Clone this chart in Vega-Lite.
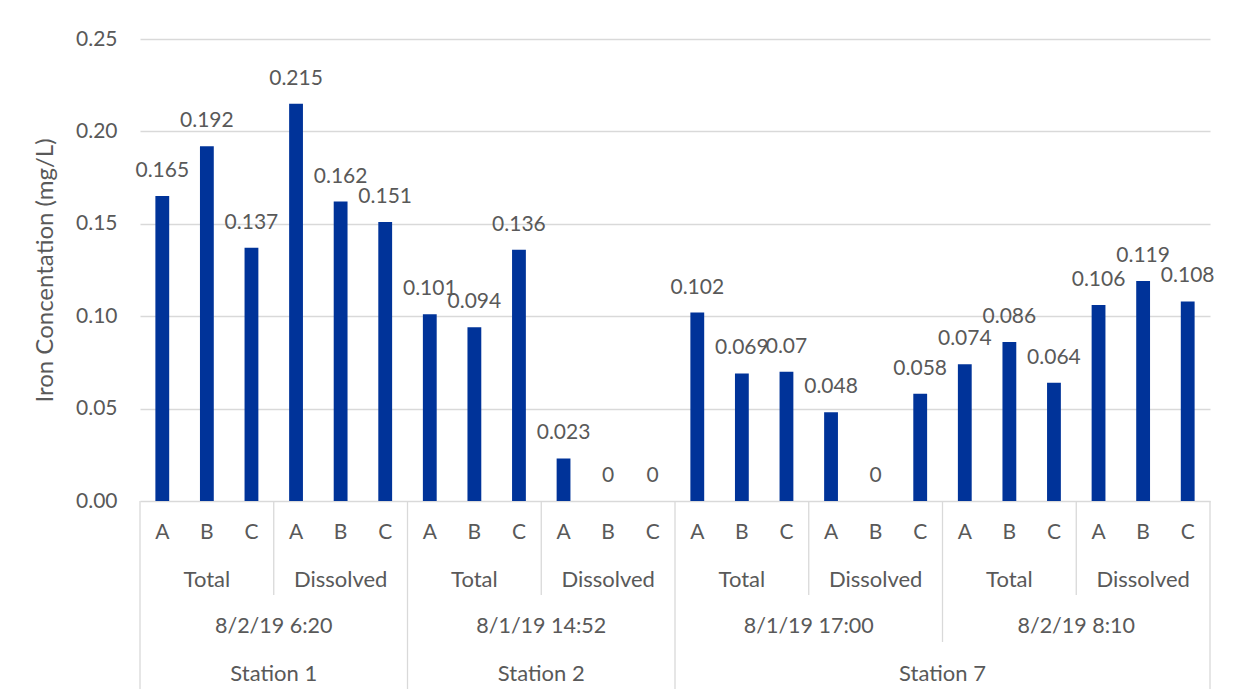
{
  "$schema": "https://vega.github.io/schema/vega-lite/v6.json",
  "padding": {"left": 33, "top": 28, "right": 30, "bottom": 0},
  "bounds": "flush",
  "spacing": 0,
  "config": {
    "view": {"stroke": null},
    "font": "Lato",
    "axis": {"labelFont": "Lato", "titleFont": "Lato", "labelColor": "#595959", "titleColor": "#595959"}
  },
  "datasets": {
    "bars": [
      {"id": "1TA", "station": "Station 1", "date": "8/2/19 6:20", "type": "Total", "sample": "A", "value": 0.165},
      {"id": "1TB", "station": "Station 1", "date": "8/2/19 6:20", "type": "Total", "sample": "B", "value": 0.192},
      {"id": "1TC", "station": "Station 1", "date": "8/2/19 6:20", "type": "Total", "sample": "C", "value": 0.137},
      {"id": "1DA", "station": "Station 1", "date": "8/2/19 6:20", "type": "Dissolved", "sample": "A", "value": 0.215},
      {"id": "1DB", "station": "Station 1", "date": "8/2/19 6:20", "type": "Dissolved", "sample": "B", "value": 0.162},
      {"id": "1DC", "station": "Station 1", "date": "8/2/19 6:20", "type": "Dissolved", "sample": "C", "value": 0.151},
      {"id": "2TA", "station": "Station 2", "date": "8/1/19 14:52", "type": "Total", "sample": "A", "value": 0.101},
      {"id": "2TB", "station": "Station 2", "date": "8/1/19 14:52", "type": "Total", "sample": "B", "value": 0.094},
      {"id": "2TC", "station": "Station 2", "date": "8/1/19 14:52", "type": "Total", "sample": "C", "value": 0.136},
      {"id": "2DA", "station": "Station 2", "date": "8/1/19 14:52", "type": "Dissolved", "sample": "A", "value": 0.023},
      {"id": "2DB", "station": "Station 2", "date": "8/1/19 14:52", "type": "Dissolved", "sample": "B", "value": 0},
      {"id": "2DC", "station": "Station 2", "date": "8/1/19 14:52", "type": "Dissolved", "sample": "C", "value": 0},
      {"id": "7aTA", "station": "Station 7", "date": "8/1/19 17:00", "type": "Total", "sample": "A", "value": 0.102},
      {"id": "7aTB", "station": "Station 7", "date": "8/1/19 17:00", "type": "Total", "sample": "B", "value": 0.069},
      {"id": "7aTC", "station": "Station 7", "date": "8/1/19 17:00", "type": "Total", "sample": "C", "value": 0.07},
      {"id": "7aDA", "station": "Station 7", "date": "8/1/19 17:00", "type": "Dissolved", "sample": "A", "value": 0.048},
      {"id": "7aDB", "station": "Station 7", "date": "8/1/19 17:00", "type": "Dissolved", "sample": "B", "value": 0},
      {"id": "7aDC", "station": "Station 7", "date": "8/1/19 17:00", "type": "Dissolved", "sample": "C", "value": 0.058},
      {"id": "7bTA", "station": "Station 7", "date": "8/2/19 8:10", "type": "Total", "sample": "A", "value": 0.074},
      {"id": "7bTB", "station": "Station 7", "date": "8/2/19 8:10", "type": "Total", "sample": "B", "value": 0.086},
      {"id": "7bTC", "station": "Station 7", "date": "8/2/19 8:10", "type": "Total", "sample": "C", "value": 0.064},
      {"id": "7bDA", "station": "Station 7", "date": "8/2/19 8:10", "type": "Dissolved", "sample": "A", "value": 0.106},
      {"id": "7bDB", "station": "Station 7", "date": "8/2/19 8:10", "type": "Dissolved", "sample": "B", "value": 0.119},
      {"id": "7bDC", "station": "Station 7", "date": "8/2/19 8:10", "type": "Dissolved", "sample": "C", "value": 0.108}
    ],
    "stations": [
      {"station": "Station 1", "mid": "1TC"},
      {"station": "Station 2", "mid": "2TC"},
      {"station": "Station 7", "mid": "7aDC"}
    ]
  },
  "vconcat": [
    {
      "width": 1070,
      "height": 462,
      "data": {"name": "bars"},
      "encoding": {
        "x": {"field": "id", "type": "nominal", "axis": null,
              "scale": {"domain": ["1TA","1TB","1TC","1DA","1DB","1DC","2TA","2TB","2TC","2DA","2DB","2DC","7aTA","7aTB","7aTC","7aDA","7aDB","7aDC","7bTA","7bTB","7bTC","7bDA","7bDB","7bDC"], "paddingInner": 0, "paddingOuter": 0}},
        "y": {"field": "value", "type": "quantitative",
              "scale": {"domain": [0, 0.25], "nice": false},
              "axis": {"title": "Iron Concentation (mg/L)", "values": [0, 0.05, 0.1, 0.15, 0.2, 0.25], "format": ".2f",
                       "domain": false, "ticks": false, "grid": true, "gridColor": "#d9d9d9", "gridWidth": 1.3,
                       "labelFontSize": 21, "labelPadding": 23, "titleFontSize": 24, "titleFontWeight": "normal", "titlePadding": 18}}
      },
      "layer": [
        {"mark": {"type": "bar", "color": "#003399", "width": {"band": 0.31}}},
        {"mark": {"type": "text", "color": "#595959", "fontSize": 21, "baseline": "alphabetic", "dy": -19},
         "encoding": {"text": {"field": "value", "type": "quantitative"}}}
      ]
    },
    {
      "width": 1070,
      "height": 47,
      "data": {"name": "bars"},
      "layer": [
        {"mark": {"type": "text", "color": "#595959", "fontSize": 21, "dy": 8},
         "encoding": {
           "x": {"field": "id", "type": "nominal", "axis": null,
                 "scale": {"domain": ["1TA","1TB","1TC","1DA","1DB","1DC","2TA","2TB","2TC","2DA","2DB","2DC","7aTA","7aTB","7aTC","7aDA","7aDB","7aDC","7bTA","7bTB","7bTC","7bDA","7bDB","7bDC"], "paddingInner": 0, "paddingOuter": 0}},
           "text": {"field": "sample", "type": "nominal"}}},
        {"transform": [{"filter": "datum.sample == 'A'"}],
         "mark": {"type": "rule", "color": "#d9d9d9", "strokeWidth": 1.3},
         "encoding": {"x": {"field": "id", "type": "nominal", "bandPosition": 0, "axis": null}}},
        {"transform": [{"filter": "datum.id == '7bDC'"}],
         "mark": {"type": "rule", "color": "#d9d9d9", "strokeWidth": 1.3},
         "encoding": {"x": {"field": "id", "type": "nominal", "bandPosition": 1, "axis": null}}}
      ]
    },
    {
      "width": 1070,
      "height": 47,
      "data": {"name": "bars"},
      "layer": [
        {"transform": [{"filter": "datum.sample == 'B'"}],
         "mark": {"type": "text", "color": "#595959", "fontSize": 22, "dy": 8},
         "encoding": {
           "x": {"field": "id", "type": "nominal", "axis": null,
                 "scale": {"domain": ["1TA","1TB","1TC","1DA","1DB","1DC","2TA","2TB","2TC","2DA","2DB","2DC","7aTA","7aTB","7aTC","7aDA","7aDB","7aDC","7bTA","7bTB","7bTC","7bDA","7bDB","7bDC"], "paddingInner": 0, "paddingOuter": 0}},
           "text": {"field": "type", "type": "nominal"}}},
        {"transform": [{"filter": "datum.sample == 'A'"}],
         "mark": {"type": "rule", "color": "#d9d9d9", "strokeWidth": 1.3},
         "encoding": {"x": {"field": "id", "type": "nominal", "bandPosition": 0, "axis": null}}},
        {"transform": [{"filter": "datum.id == '7bDC'"}],
         "mark": {"type": "rule", "color": "#d9d9d9", "strokeWidth": 1.3},
         "encoding": {"x": {"field": "id", "type": "nominal", "bandPosition": 1, "axis": null}}}
      ]
    },
    {
      "width": 1070,
      "height": 47,
      "data": {"name": "bars"},
      "layer": [
        {"transform": [{"filter": "datum.type == 'Total' && datum.sample == 'C'"}],
         "mark": {"type": "text", "color": "#595959", "fontSize": 21.5, "dy": 8},
         "encoding": {
           "x": {"field": "id", "type": "nominal", "bandPosition": 1, "axis": null,
                 "scale": {"domain": ["1TA","1TB","1TC","1DA","1DB","1DC","2TA","2TB","2TC","2DA","2DB","2DC","7aTA","7aTB","7aTC","7aDA","7aDB","7aDC","7bTA","7bTB","7bTC","7bDA","7bDB","7bDC"], "paddingInner": 0, "paddingOuter": 0}},
           "text": {"field": "date", "type": "nominal"}}},
        {"transform": [{"filter": "datum.type == 'Total' && datum.sample == 'A'"}],
         "mark": {"type": "rule", "color": "#d9d9d9", "strokeWidth": 1.3},
         "encoding": {"x": {"field": "id", "type": "nominal", "bandPosition": 0, "axis": null}}},
        {"transform": [{"filter": "datum.id == '7bDC'"}],
         "mark": {"type": "rule", "color": "#d9d9d9", "strokeWidth": 1.3},
         "encoding": {"x": {"field": "id", "type": "nominal", "bandPosition": 1, "axis": null}}}
      ]
    },
    {
      "width": 1070,
      "height": 47,
      "layer": [
        {"data": {"name": "stations"},
         "mark": {"type": "text", "color": "#595959", "fontSize": 22, "dy": 8},
         "encoding": {
           "x": {"field": "mid", "type": "nominal", "bandPosition": 1, "axis": null,
                 "scale": {"domain": ["1TA","1TB","1TC","1DA","1DB","1DC","2TA","2TB","2TC","2DA","2DB","2DC","7aTA","7aTB","7aTC","7aDA","7aDB","7aDC","7bTA","7bTB","7bTC","7bDA","7bDB","7bDC"], "paddingInner": 0, "paddingOuter": 0}},
           "text": {"field": "station", "type": "nominal"}}},
        {"data": {"name": "bars"},
         "transform": [{"filter": "datum.id == '1TA' || datum.id == '2TA' || datum.id == '7aTA'"}],
         "mark": {"type": "rule", "color": "#d9d9d9", "strokeWidth": 1.3},
         "encoding": {"x": {"field": "id", "type": "nominal", "bandPosition": 0, "axis": null}}},
        {"data": {"name": "bars"},
         "transform": [{"filter": "datum.id == '7bDC'"}],
         "mark": {"type": "rule", "color": "#d9d9d9", "strokeWidth": 1.3},
         "encoding": {"x": {"field": "id", "type": "nominal", "bandPosition": 1, "axis": null}}}
      ]
    }
  ]
}
